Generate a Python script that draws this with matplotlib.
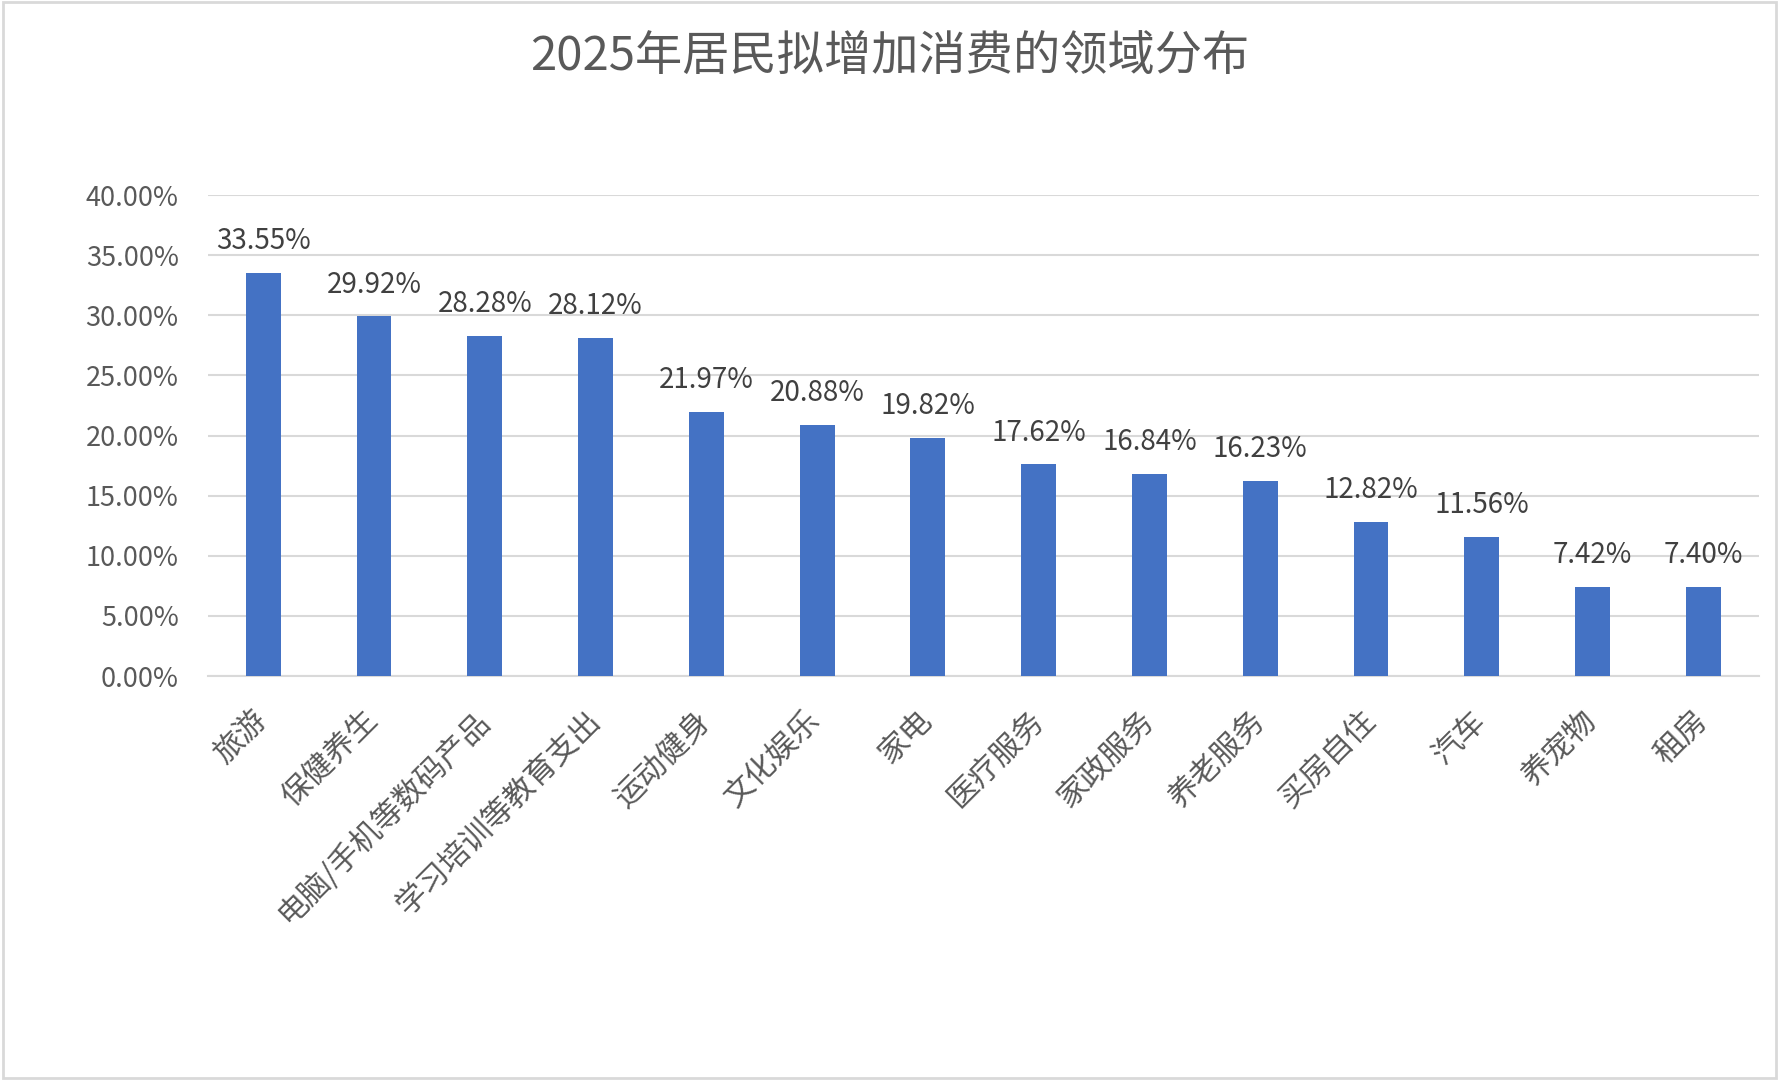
import matplotlib
matplotlib.use("Agg")
import matplotlib.pyplot as plt
from matplotlib.patches import Rectangle
from matplotlib.transforms import ScaledTranslation

plt.rcParams['font.family'] = ['Noto Sans CJK SC', 'DejaVu Sans']

title = "2025年居民拟增加消费的领域分布"
categories = ["旅游", "保健养生", "电脑/手机等数码产品", "学习培训等教育支出", "运动健身",
              "文化娱乐", "家电", "医疗服务", "家政服务", "养老服务", "买房自住",
              "汽车", "养宠物", "租房"]
values = [33.55, 29.92, 28.28, 28.12, 21.97, 20.88, 19.82, 17.62, 16.84, 16.23,
          12.82, 11.56, 7.42, 7.40]
yticks = [0, 5, 10, 15, 20, 25, 30, 35, 40]
ytick_labels = ["0.00%", "5.00%", "10.00%", "15.00%", "20.00%", "25.00%",
                "30.00%", "35.00%", "40.00%"]

fig = plt.figure(figsize=(17.79, 10.80), dpi=100)
fig.patches.append(Rectangle((0.0015, 0.0015), 0.997, 0.997, transform=fig.transFigure,
                             fill=False, edgecolor='#d9d9d9', linewidth=2))
ax = fig.add_axes([0.1168, 0.374, 0.8718, 0.4454])

x = list(range(len(categories)))
ax.bar(x, values, width=0.315, color='#4472C4', zorder=3)
ax.set_xlim(-0.5, len(categories) - 0.5)
ax.set_ylim(0, 40)
ax.set_yticks(yticks)
ax.set_yticklabels(ytick_labels, fontsize=19.5, color='#595959')
ax.yaxis.grid(True, color='#d9d9d9', linewidth=1.5, zorder=0)
ax.tick_params(axis='both', length=0)
ax.tick_params(axis='y', pad=21)
for s in ['top', 'right', 'left']:
    ax.spines[s].set_visible(False)
ax.spines['bottom'].set_color('#d9d9d9')
ax.spines['bottom'].set_linewidth(1.5)

ax.set_xticks(x)
ax.set_xticklabels(categories, rotation=45, ha='right', rotation_mode='anchor',
                   fontsize=22, color='#595959')
ax.tick_params(axis='x', pad=21)
shift = ScaledTranslation(-8 / 72, 0, fig.dpi_scale_trans)
for lbl in ax.get_xticklabels():
    lbl.set_transform(lbl.get_transform() + shift)

for xi, v in zip(x, values):
    ax.annotate(f"{v:.2f}%", (xi, v), xytext=(0, 12), textcoords='offset points',
                ha='center', va='bottom', fontsize=20, color='#404040')

fig.text(0.5, 0.947, title, ha='center', va='center', fontsize=34, color='#595959')

fig.savefig("out.png", dpi=100, facecolor='white')
